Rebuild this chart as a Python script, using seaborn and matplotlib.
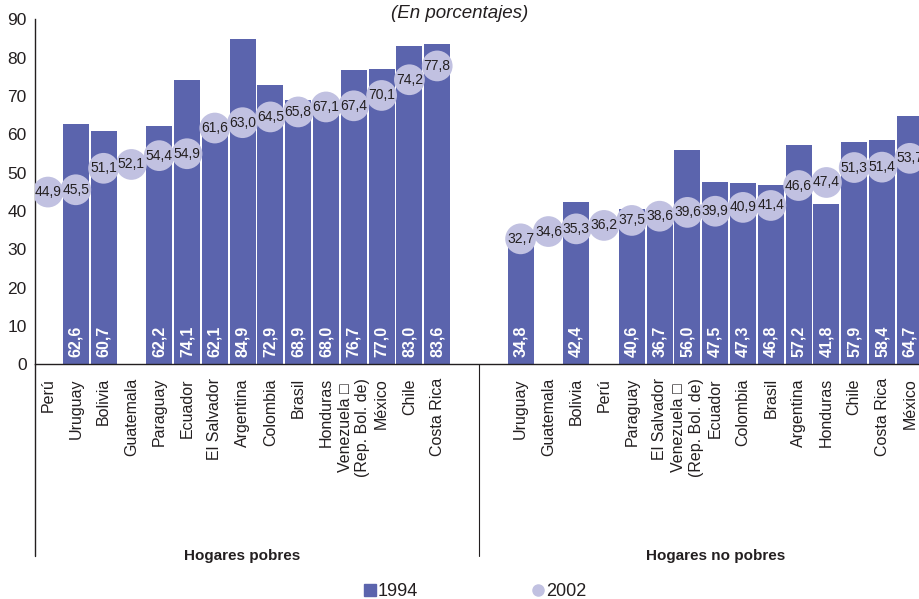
import pandas as pd
import seaborn as sns
import matplotlib.pyplot as plt
import matplotlib.transforms as mtransforms
from matplotlib.lines import Line2D

# ==============================================================
# DATA
# ==============================================================
paises_pobres = ["Perú", "Uruguay", "Bolivia", "Guatemala", "Paraguay", "Ecuador", "El Salvador",
                 "Argentina", "Colombia", "Brasil", "Honduras", "Venezuela \u25a1\n(Rep. Bol. de)",
                 "México", "Chile", "Costa Rica"]
pobres_1994 = [None, 62.6, 60.7, None, 62.2, 74.1, 62.1, 84.9, 72.9, 68.9, 68.0, 76.7, 77.0, 83.0, 83.6]
pobres_2002 = [44.9, 45.5, 51.1, 52.1, 54.4, 54.9, 61.6, 63.0, 64.5, 65.8, 67.1, 67.4, 70.1, 74.2, 77.8]

paises_no_pobres = ["Uruguay", "Guatemala", "Bolivia", "Perú", "Paraguay", "El Salvador",
                    "Venezuela \u25a1\n(Rep. Bol. de)", "Ecuador", "Colombia", "Brasil", "Argentina",
                    "Honduras", "Chile", "Costa Rica", "México"]
no_pobres_1994 = [34.8, None, 42.4, None, 40.6, 36.7, 56.0, 47.5, 47.3, 46.8, 57.2, 41.8, 57.9, 58.4, 64.7]
no_pobres_2002 = [32.7, 34.6, 35.3, 36.2, 37.5, 38.6, 39.6, 39.9, 40.9, 41.4, 46.6, 47.4, 51.3, 51.4, 53.7]

grupos = ["Hogares pobres", "Hogares no pobres"]

# ==============================================================
# STYLE
# ==============================================================
COLOR_1994 = "#5B64AD"
COLOR_2002 = "#C1C1E1"
TEXT = "#231F20"
OFFSET_2 = 17  # slot where second group starts (two empty slots between groups)

sns.set_style("white")
plt.rcParams['font.family'] = ['Liberation Sans', 'DejaVu Sans']

def fmt(v):
    return f"{v:.1f}".replace(".", ",")

rows = []
for i, (p, a, b) in enumerate(zip(paises_pobres, pobres_1994, pobres_2002)):
    rows.append({"pos": i, "pais": p, "grupo": grupos[0], "v1994": a, "v2002": b})
for i, (p, a, b) in enumerate(zip(paises_no_pobres, no_pobres_1994, no_pobres_2002)):
    rows.append({"pos": OFFSET_2 + i, "pais": p, "grupo": grupos[1], "v1994": a, "v2002": b})
df = pd.DataFrame(rows)
df_bars = df.dropna(subset=["v1994"])

fig = plt.figure(figsize=(9.19, 5.99), dpi=100)
ax = fig.add_axes([0.038, 0.392, 0.962, 0.576])

sns.barplot(data=df_bars, x="pos", y="v1994", native_scale=True, color=COLOR_1994,
            saturation=1, width=0.93, errorbar=None, linewidth=0, ax=ax, zorder=2)
sns.scatterplot(data=df, x="pos", y="v2002", s=490, color=COLOR_2002, edgecolor="none",
                ax=ax, zorder=3, legend=False)

# labels on bars (white, rotated, at the bottom)
for _, r in df_bars.iterrows():
    ax.annotate(fmt(r["v1994"]), (r["pos"], 0), xytext=(0, 5), textcoords="offset points",
                rotation=90, ha="center", va="bottom", color="white", fontweight="bold",
                fontsize=11.5, zorder=4)
# labels on circles
for _, r in df.iterrows():
    ax.text(r["pos"], r["v2002"], fmt(r["v2002"]), ha="center", va="center",
            fontsize=10, color=TEXT, zorder=4)

ax.set_xlim(-0.47, 31.33)
ax.set_ylim(0, 90)
ax.set_yticks(range(0, 91, 10))
ax.set_xticks(df["pos"])
ax.set_xticklabels(df["pais"], rotation=90, fontsize=11.5, color=TEXT)
ax.tick_params(axis="x", length=0, pad=10)
ax.tick_params(axis="y", direction="inout", length=6, width=1, labelsize=12.5,
               colors=TEXT, pad=3)
ax.set_xlabel("")
ax.set_ylabel("")

for s in ["top", "right"]:
    ax.spines[s].set_visible(False)
for s in ["left", "bottom"]:
    ax.spines[s].set_color(TEXT)
    ax.spines[s].set_linewidth(1)

# bracket lines below the axis
trans = mtransforms.blended_transform_factory(ax.transData, ax.transAxes)
ax.plot([0, 0], [0, -0.555], transform=ax.transAxes, color=TEXT, lw=1, clip_on=False)
ax.plot([15.5, 15.5], [0, -0.555], transform=trans, color=TEXT, lw=0.8, clip_on=False)

ax.text(7, -0.557, grupos[0], transform=trans, ha="center", va="center",
        fontsize=11, fontweight="bold", color=TEXT)
ax.text(OFFSET_2 + 7, -0.557, grupos[1], transform=trans, ha="center", va="center",
        fontsize=11, fontweight="bold", color=TEXT)

fig.text(0.5, 0.978, "(En porcentajes)", ha="center", va="center", fontsize=13.5,
         style="italic", color=TEXT)

handles = [Line2D([], [], marker="s", linestyle="", color=COLOR_1994, markersize=8),
           Line2D([], [], marker="o", linestyle="", color=COLOR_2002, markersize=8)]
fig.legend(handles, ["1994", "2002"], loc="center", bbox_to_anchor=(0.517, 0.012), ncol=2,
           frameon=False, fontsize=13, handlelength=0.7, handletextpad=0.1,
           columnspacing=6.3, labelcolor=TEXT)

fig.savefig("out.png", dpi=100)
